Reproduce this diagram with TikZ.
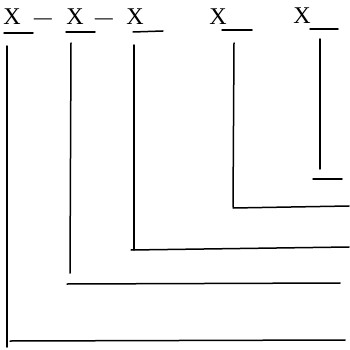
\documentclass[tikz,border=0pt]{standalone}
\usepackage{fontspec}
\usepackage{graphicx}
\setmainfont{Liberation Serif}
\begin{document}
\begin{tikzpicture}[x=1pt,y=-1pt,
  lbl/.style={anchor=base,inner sep=0pt,font=\fontsize{24}{24}\selectfont},
  dsh/.style={anchor=base,inner sep=0pt,font=\fontsize{22}{22}\selectfont},
  ln/.style={line width=1.5pt,line cap=round}]
\useasboundingbox (0,0) rectangle (349,350);
% labels
\node[lbl] (x1) at (12,25) {X};
\node[dsh] (d1) at (43,25) {\scalebox{1.6}[1]{–}};
\node[lbl] (x2) at (75,25) {X};
\node[dsh] (d2) at (104,25) {\scalebox{1.6}[1]{–}};
\node[lbl] (x3) at (135,25) {X};
\node[lbl] (x4) at (218,25) {X};
\node[lbl] (x5) at (302,24) {X};
% underlines
\draw[ln] (4,33) -- (33,33);
\draw[ln] (66,32) -- (95,32);
\draw[ln] (133,32) -- (163,31);
\draw[ln] (222,30) -- (252,30);
\draw[ln] (310,29) -- (338,29);
% verticals
\draw[ln] (7,46) -- (7,347);
\draw[ln] (71,43) -- (70,273);
\draw[ln] (134,45) -- (134,250);
\draw[ln] (234,43) -- (233,207);
\draw[ln] (320,39) -- (320,169);
% horizontals
\draw[ln] (10,341) -- (345,340);
\draw[ln] (67,284) -- (340,283);
\draw[ln] (131,250) -- (349,247);
\draw[ln] (233,208) -- (349,206);
\draw[ln] (313,179) -- (342,179);
\end{tikzpicture}
\end{document}
